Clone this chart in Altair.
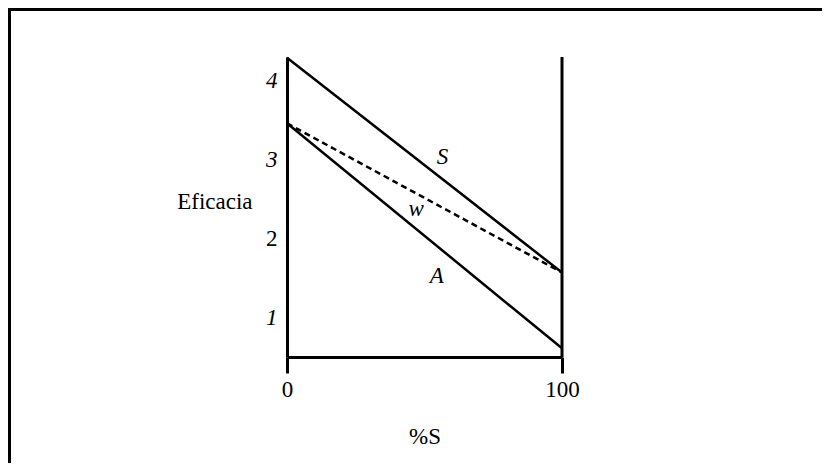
import altair as alt
import pandas as pd

# data
x_vals = [0, 100]
s_vals = [4.29, 1.57]
w_vals = [3.46, 1.57]
a_vals = [3.46, 0.61]

label_names = ["S", "w", "A"]
label_x = [56.5, 47.0, 54.5]
label_y = [3.03, 2.38, 1.53]

x_ticks = [0, 100]
y_ticks = [1, 2, 3, 4]
y_min, y_max = 0.5, 4.3

FONT = "Liberation Serif"
FS = 23

lines_df = pd.DataFrame({
    "x": x_vals * 3,
    "y": s_vals + w_vals + a_vals,
    "serie": ["S"] * 2 + ["w"] * 2 + ["A"] * 2,
})
labels_df = pd.DataFrame({"name": label_names, "x": label_x, "y": label_y})
right_df = pd.DataFrame({"x": [100], "y": [y_min], "y2": [y_max]})

xscale = alt.Scale(domain=[0, 100], nice=False, zero=False)
yscale = alt.Scale(domain=[y_min, y_max], nice=False, zero=False)

xenc = alt.X("x:Q", scale=xscale, axis=alt.Axis(
    values=x_ticks, title="%S", grid=False, tickSize=16, tickWidth=3,
    domainWidth=3, domainColor="black", tickColor="black", format="d",
    labelFont=FONT, labelFontSize=FS, labelColor="black", labelPadding=5,
    titleFont=FONT, titleFontSize=FS, titleFontWeight="normal",
    titleColor="black", titlePadding=24, labelFlush=False))
yenc = alt.Y("y:Q", scale=yscale, axis=alt.Axis(
    values=y_ticks, title="Eficacia", grid=False, ticks=False, format="d",
    domainWidth=3, domainColor="black", labelFont=FONT, labelFontSize=FS,
    labelColor="black", labelPadding=10,
    labelFontStyle={"condition": {"test": "datum.value == 2", "value": "normal"}, "value": "italic"},
    titleFont=FONT, titleFontSize=FS, titleFontWeight="normal",
    titleColor="black", titleAngle=0, titleAlign="right",
    titleBaseline="alphabetic", titleX=-35, titleY=151))

solid = alt.Chart(lines_df).transform_filter("datum.serie != 'w'").mark_line(
    color="black", strokeWidth=2.5).encode(x=xenc, y=yenc, detail="serie:N")
dashed = alt.Chart(lines_df).transform_filter("datum.serie == 'w'").mark_line(
    color="black", strokeWidth=2.5, strokeDash=[6, 4]).encode(x="x:Q", y="y:Q")
right = alt.Chart(right_df).mark_rule(color="black", strokeWidth=3).encode(
    x="x:Q", y="y:Q", y2="y2:Q")
texts = alt.Chart(labels_df).mark_text(
    font=FONT, fontSize=FS, fontStyle="italic", color="black",
    baseline="middle", align="center").encode(x="x:Q", y="y:Q", text="name:N")

# frame decoration (top and left border of the picture)
frame_top = alt.Chart(right_df).mark_rule(color="black", strokeWidth=3).encode(
    x=alt.value(-278), x2=alt.value(535), y=alt.value(-47.5))
frame_left = alt.Chart(right_df).mark_rule(color="black", strokeWidth=3).encode(
    x=alt.value(-277.5), y=alt.value(-49), y2=alt.value(406))

chart = alt.layer(solid, dashed, right, texts, frame_top, frame_left).properties(
    width=275, height=300,
    autosize=alt.AutoSizeParams(type="none"),
    padding={"left": 279, "top": 49, "right": 260, "bottom": 106},
    background="white",
).configure_view(stroke=None).configure_axis(
    titleFont=FONT, labelFont=FONT
).configure_text(font=FONT)

chart.save("out.html", embed_options={"renderer": "svg", "actions": False})
